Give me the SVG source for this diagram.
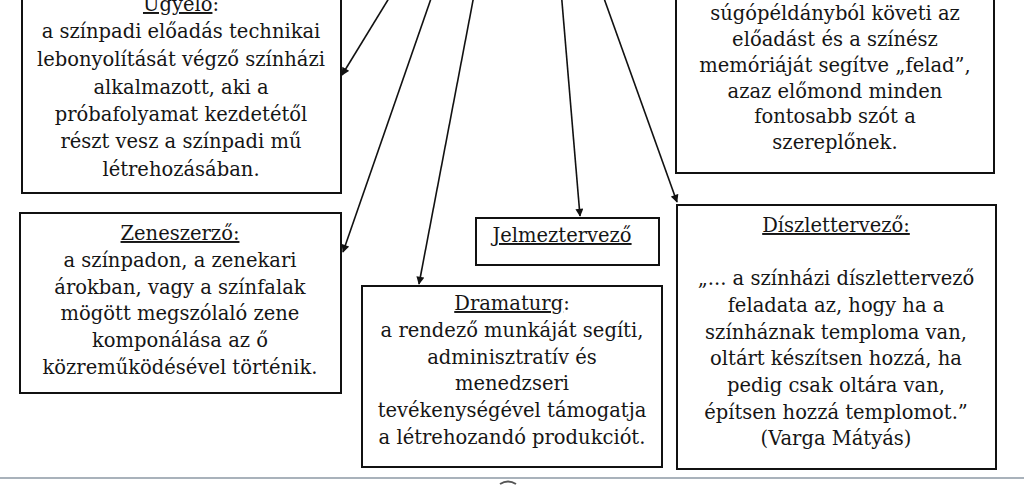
<svg xmlns="http://www.w3.org/2000/svg" width="1024" height="485" viewBox="0 0 1024 485">
<defs>
<style>
.box{fill:#fff;stroke:#111;stroke-width:2}
.t{font-family:"DejaVu Serif","Liberation Serif",serif;font-size:19.5px;fill:#151515;text-anchor:middle}
.u{text-decoration:underline}
.c{stroke:#111;stroke-width:1.6;fill:none;marker-end:url(#ah)}
</style>
<marker id="ah" viewBox="0 0 10 10" refX="9" refY="5" markerWidth="9" markerHeight="8" markerUnits="userSpaceOnUse" orient="auto">
<path d="M0,0 L10,5 L0,10 z" fill="#111"/>
</marker>
</defs>
<rect width="1024" height="485" fill="#fff"/>
<g id="connectors">
<line class="c" x1="394" y1="-10" x2="342" y2="75"/>
<line class="c" x1="434" y1="-10" x2="343" y2="252"/>
<line class="c" x1="475" y1="-10" x2="419" y2="284"/>
<line class="c" x1="561" y1="-10" x2="580" y2="216"/>
<line class="c" x1="601" y1="-10" x2="677" y2="202"/>
</g>
<g id="ugyelo">
<rect class="box" x="22" y="-5" width="319" height="198"/>
<text class="t" x="181" y="11"><tspan class="u">Ügyelő</tspan>:</text>
<text class="t" x="181" y="38">a színpadi előadás technikai</text>
<text class="t" x="181" y="66">lebonyolítását végző színházi</text>
<text class="t" x="181" y="94">alkalmazott, aki a</text>
<text class="t" x="181" y="121">próbafolyamat kezdetétől</text>
<text class="t" x="181" y="148">részt vesz a színpadi mű</text>
<text class="t" x="181" y="176">létrehozásában.</text>
</g>
<g id="zeneszerzo">
<rect class="box" x="20" y="213" width="321" height="180"/>
<text class="t" x="180" y="240"><tspan class="u">Zeneszerző:</tspan></text>
<text class="t" x="180" y="267">a színpadon, a zenekari</text>
<text class="t" x="180" y="294">árokban, vagy a színfalak</text>
<text class="t" x="180" y="320">mögött megszólaló zene</text>
<text class="t" x="180" y="347">komponálása az ő</text>
<text class="t" x="180" y="374">közreműködésével történik.</text>
</g>
<g id="sugo">
<rect class="box" x="676" y="-5" width="318" height="178"/>
<text class="t" x="835" y="20">súgópéldányból követi az</text>
<text class="t" x="835" y="46">előadást és a színész</text>
<text class="t" x="835" y="72">memóriáját segítve „felad”,</text>
<text class="t" x="835" y="98">azaz előmond minden</text>
<text class="t" x="835" y="123">fontosabb szót a</text>
<text class="t" x="835" y="149">szereplőnek.</text>
</g>
<g id="jelmeztervezo">
<rect class="box" x="476" y="218" width="183" height="47"/>
<text class="t" x="562" y="242"><tspan class="u">Jelmeztervező</tspan></text>
</g>
<g id="dramaturg">
<rect class="box" x="362" y="286" width="300" height="181"/>
<text class="t" x="512" y="310"><tspan class="u">Dramaturg</tspan>:</text>
<text class="t" x="512" y="337">a rendező munkáját segíti,</text>
<text class="t" x="512" y="364">adminisztratív és</text>
<text class="t" x="512" y="390">menedzseri</text>
<text class="t" x="512" y="417">tevékenységével támogatja</text>
<text class="t" x="512" y="444">a létrehozandó produkciót.</text>
</g>
<g id="diszlettervezo">
<rect class="box" x="677" y="205" width="319" height="264"/>
<text class="t" x="836" y="232"><tspan class="u">Díszlettervező:</tspan></text>
<text class="t" x="836" y="285">„... a színházi díszlettervező</text>
<text class="t" x="836" y="312">feladata az, hogy ha a</text>
<text class="t" x="836" y="339">színháznak temploma van,</text>
<text class="t" x="836" y="365">oltárt készítsen hozzá, ha</text>
<text class="t" x="836" y="392">pedig csak oltára van,</text>
<text class="t" x="836" y="419">építsen hozzá templomot.”</text>
<text class="t" x="836" y="445">(Varga Mátyás)</text>
</g>
<line x1="0" y1="478" x2="1024" y2="478" stroke="#8c98a4" stroke-width="1.5"/>
<path d="M500,484 Q508,479 516,484" stroke="#555" stroke-width="2" fill="none"/>
</svg>
